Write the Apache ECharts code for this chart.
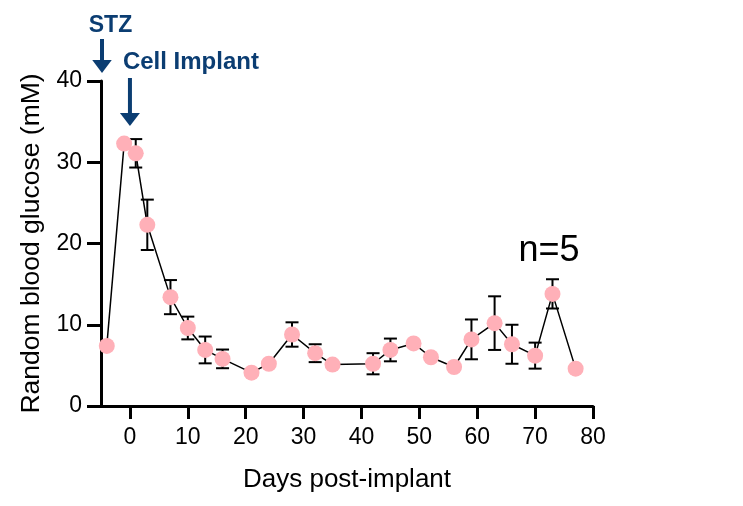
<!DOCTYPE html>
<html>
<head>
<meta charset="utf-8">
<script src="https://cdn.jsdelivr.net/npm/echarts@6/dist/echarts.min.js"></script>
<style>
html,body{margin:0;padding:0;background:#fff;}
#c{width:743px;height:506px;}
</style>
</head>
<body>
<div id="c"></div>
<script>
// Data
var days = [-4, -1, 1, 3, 7, 10, 13, 16, 21, 24, 28, 32, 35, 42, 45, 49, 52, 56, 59, 63, 66, 70, 73, 77];
var glucose = [7.4, 32.3, 31.1, 22.3, 13.4, 9.6, 6.9, 5.8, 4.1, 5.2, 8.8, 6.5, 5.1, 5.2, 6.9, 7.7, 6.0, 4.8, 8.2, 10.2, 7.6, 6.2, 13.8, 4.6];
var sem = [null, null, 1.75, 3.1, 2.1, 1.4, 1.65, 1.15, null, null, 1.5, 1.1, null, 1.3, 1.4, null, null, null, 2.45, 3.3, 2.4, 1.6, 1.8, null];
var xTicks = [0, 10, 20, 30, 40, 50, 60, 70, 80];
var yTicks = [0, 10, 20, 30, 40];
var xName = 'Days post-implant';
var yName = 'Random blood glucose (mM)';
var stzDay = -5;
var implantDay = 0;

var FONT = '"Liberation Sans", Arial, Helvetica, sans-serif';
var NAVY = '#0B3D72';

var lineData = days.map(function (d, i) { return [d, glucose[i]]; });
var errData = [];
days.forEach(function (d, i) {
  if (sem[i] != null) errData.push([d, glucose[i] - sem[i], glucose[i] + sem[i]]);
});

var chart = echarts.init(document.getElementById('c'), null, {renderer: 'canvas'});

var option = {
  animation: false,
  backgroundColor: '#fff',
  grid: {left: 101, right: 150, top: 81, bottom: 100, containLabel: false},
  xAxis: {
    type: 'value',
    min: -5, max: 80,
    name: xName,
    nameLocation: 'middle',
    nameGap: 61,
    nameTextStyle: {fontSize: 26, color: '#000', fontFamily: FONT},
    splitLine: {show: false},
    axisLine: {show: true, onZero: false, lineStyle: {color: '#000', width: 3}},
    axisTick: {show: true, length: 13, lineStyle: {color: '#000', width: 3}, customValues: xTicks},
    axisLabel: {fontSize: 23, color: '#000', fontFamily: FONT, margin: 20, customValues: xTicks}
  },
  yAxis: {
    type: 'value',
    min: 0, max: 40, interval: 10,
    name: yName,
    nameLocation: 'middle',
    nameGap: 55,
    nameTextStyle: {fontSize: 26.5, color: '#000', fontFamily: FONT},
    splitLine: {show: false},
    axisLine: {show: true, onZero: false, lineStyle: {color: '#000', width: 3}},
    axisTick: {show: true, length: 14, lineStyle: {color: '#000', width: 3}},
    axisLabel: {fontSize: 23, color: '#000', fontFamily: FONT, margin: 19}
  },
  series: [
    {
      type: 'custom',
      z: 1,
      data: errData,
      renderItem: function (params, api) {
        var x = api.value(0);
        var lo = api.coord([x, api.value(1)]);
        var hi = api.coord([x, api.value(2)]);
        var hw = 6.5;
        var st = {stroke: '#000', lineWidth: 2};
        return {
          type: 'group',
          children: [
            {type: 'line', shape: {x1: lo[0], y1: lo[1], x2: hi[0], y2: hi[1]}, style: st},
            {type: 'line', shape: {x1: lo[0] - hw, y1: lo[1], x2: lo[0] + hw, y2: lo[1]}, style: st},
            {type: 'line', shape: {x1: hi[0] - hw, y1: hi[1], x2: hi[0] + hw, y2: hi[1]}, style: st}
          ]
        };
      }
    },
    {
      type: 'line',
      z: 3,
      data: lineData,
      symbol: 'circle',
      symbolSize: 16,
      showAllSymbol: true,
      itemStyle: {color: '#FFB0B8', borderWidth: 0},
      lineStyle: {color: '#000', width: 1.5}
    }
  ]
};
chart.setOption(option);

var xStz = chart.convertToPixel({xAxisIndex: 0}, stzDay);
var xImp = chart.convertToPixel({xAxisIndex: 0}, implantDay);

function arrow(cx, yTop, yTip, headW, headH, shaftW) {
  return [
    {type: 'rect', shape: {x: cx - shaftW / 2, y: yTop, width: shaftW, height: yTip - headH - yTop + 2}, style: {fill: NAVY}},
    {type: 'polygon', shape: {points: [[cx - headW / 2, yTip - headH], [cx + headW / 2, yTip - headH], [cx, yTip]]}, style: {fill: NAVY}}
  ];
}

var g = [
  {type: 'text', x: xStz + 9.5, y: 26, style: {text: 'STZ', font: 'bold 23px ' + FONT, fill: NAVY, align: 'center', verticalAlign: 'middle'}},
  {type: 'text', x: xImp + 61, y: 62.5, style: {text: 'Cell Implant', font: 'bold 24px ' + FONT, fill: NAVY, align: 'center', verticalAlign: 'middle'}},
  {type: 'text', x: 549, y: 251, style: {text: 'n=5', font: '36px ' + FONT, fill: '#000', align: 'center', verticalAlign: 'middle'}}
].concat(arrow(xStz + 1, 39, 73, 19.5, 13, 4)).concat(arrow(xImp, 78, 126, 20, 13, 4));

chart.setOption({graphic: g});
</script>
</body>
</html>
